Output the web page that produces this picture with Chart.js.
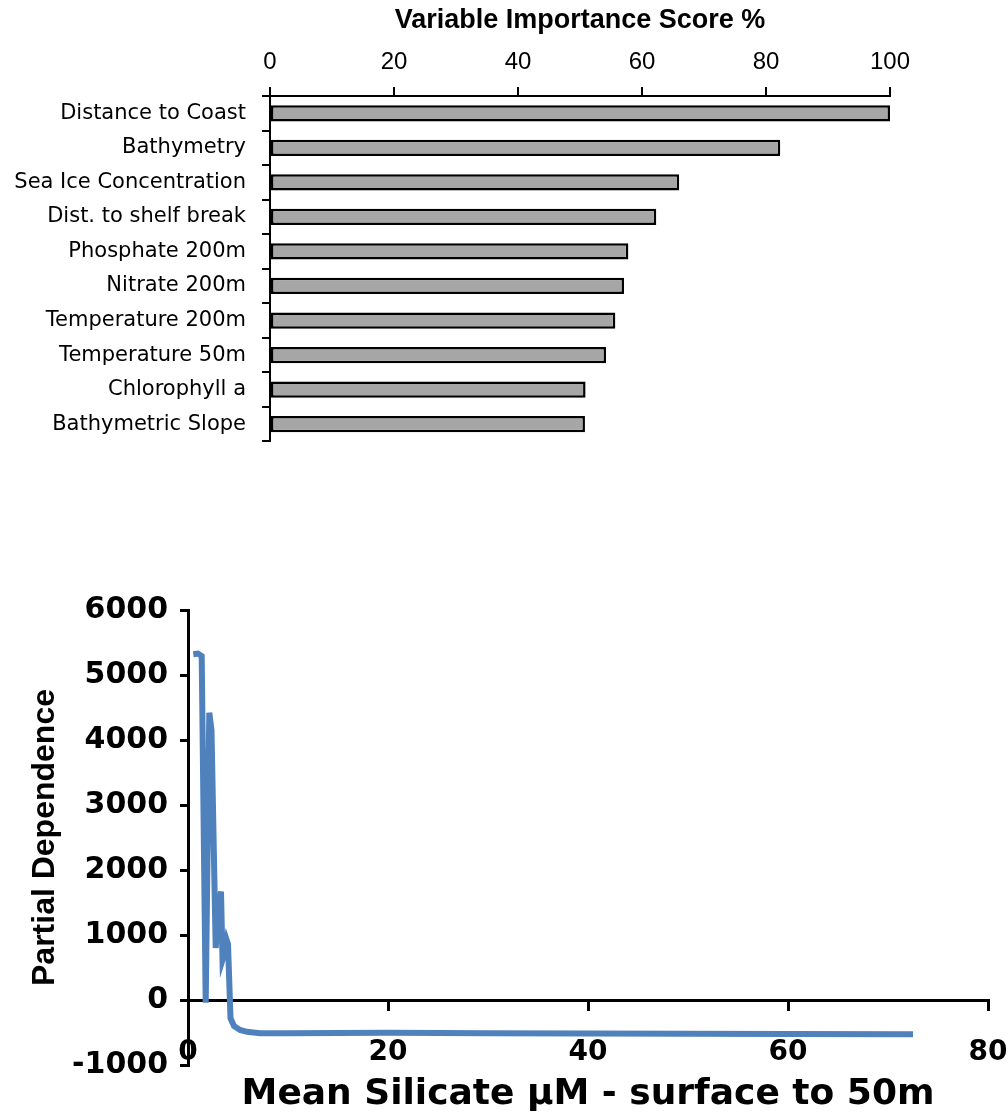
<!DOCTYPE html>
<html>
<head>
<meta charset="utf-8">
<script src="https://cdn.jsdelivr.net/npm/chart.js@4.4.1/dist/chart.umd.min.js"></script>
<style>
  html, body { margin: 0; padding: 0; background: #fff; }
  #wrap { position: relative; width: 1008px; height: 1116px; }
  #topBox { position: absolute; left: 0; top: 0; width: 1008px; height: 470px; }
  #bottomBox { position: absolute; left: 0; top: 570px; width: 1008px; height: 546px; }
</style>
</head>
<body>
<div id="wrap">
  <div id="topBox"><canvas id="importance"></canvas></div>
  <div id="bottomBox"><canvas id="dependence"></canvas></div>
</div>
<script>
// Predictor importance (percent of the top predictor)
const predictors = [
  'Distance to Coast', 'Bathymetry', 'Sea Ice Concentration', 'Dist. to shelf break',
  'Phosphate 200m', 'Nitrate 200m', 'Temperature 200m', 'Temperature 50m',
  'Chlorophyll a', 'Bathymetric Slope'
];
const importanceScores = [100, 82.3, 66.0, 62.3, 57.8, 57.1, 55.7, 54.2, 50.9, 50.8];

// Partial dependence on mean silicate (surface to 50 m)
const silicate = [0.53, 1.0, 1.37, 1.77, 2.13, 2.35, 2.77, 3.0, 3.3, 3.45, 3.65, 3.87, 4.0, 4.25, 4.6, 5.2, 5.9, 7.2, 10, 15, 20, 30, 40, 50, 60, 72.5];
const partialDependence = [5320, 5330, 5290, -40, 4420, 4150, 800, 1250, 1670, 620, 720, 920, 860, -280, -400, -460, -490, -510, -510, -508, -505, -510, -515, -518, -522, -525];

const importanceTicks = { min: 0, max: 100, step: 20 };
const silicateTicks = { min: 0, max: 80, step: 20 };
const dependenceTicks = { min: -1000, max: 6000, step: 1000 };

const BLACK = '#000';
const WIDE = 'DejaVu Sans';
const PLAIN = 'Liberation Sans';

new Chart(document.getElementById('importance'), {
  type: 'bar',
  data: {
    labels: predictors,
    datasets: [{
      data: importanceScores,
      backgroundColor: '#a6a6a6',
      borderColor: BLACK,
      borderWidth: 2.5,
      borderSkipped: false,
      barPercentage: 0.47,
      categoryPercentage: 1
    }]
  },
  options: {
    indexAxis: 'y',
    responsive: true,
    maintainAspectRatio: false,
    animation: false,
    layout: { padding: { left: 0, right: 118, top: 0, bottom: 26 } },
    plugins: { legend: { display: false }, tooltip: { enabled: false } },
    scales: {
      x: {
        type: 'linear',
        position: 'top',
        min: importanceTicks.min,
        max: importanceTicks.max,
        ticks: {
          stepSize: importanceTicks.step,
          color: BLACK,
          padding: 10,
          font: { family: PLAIN, size: 24 }
        },
        grid: { drawOnChartArea: false, tickLength: 9, color: BLACK, lineWidth: 2 },
        border: { color: BLACK, width: 2 },
        title: {
          display: true,
          text: 'Variable Importance Score %',
          color: BLACK,
          padding: { top: 4, bottom: 0 },
          font: { family: PLAIN, size: 27, weight: 'bold' }
        },
        afterFit: s => { s.height = 96; }
      },
      y: {
        type: 'category',
        ticks: {
          color: BLACK,
          padding: 16,
          font: { family: WIDE, size: 21 }
        },
        grid: { offset: true, drawOnChartArea: false, tickLength: 8, color: BLACK, lineWidth: 2 },
        border: { color: BLACK, width: 2 },
        afterFit: s => { s.width = 270; }
      }
    }
  }
});

new Chart(document.getElementById('dependence'), {
  type: 'line',
  data: {
    datasets: [{
      data: silicate.map((x, i) => ({ x, y: partialDependence[i] })),
      borderColor: '#4F81BD',
      borderWidth: 6,
      pointRadius: 0,
      tension: 0,
      fill: false,
      xAxisID: 'x',
      yAxisID: 'y'
    }]
  },
  options: {
    responsive: true,
    maintainAspectRatio: false,
    animation: false,
    layout: { padding: { left: 0, right: 20, top: 40, bottom: 0 } },
    plugins: { legend: { display: false }, tooltip: { enabled: false } },
    scales: {
      // axis line through zero, tick marks hanging below, labels further down
      x: {
        type: 'linear',
        position: { y: 0 },
        min: silicateTicks.min,
        max: silicateTicks.max,
        ticks: {
          stepSize: silicateTicks.step,
          color: BLACK,
          padding: 27,
          font: { family: WIDE, size: 28, weight: 'bold' }
        },
        grid: { drawOnChartArea: false, tickLength: 9, color: BLACK, lineWidth: 3 },
        border: { color: BLACK, width: 3 },
        afterFit: s => { s.paddingLeft = 0; s.paddingRight = 0; }
      },
      // holds the axis title at the foot of the chart
      xFoot: {
        type: 'linear',
        position: 'bottom',
        min: silicateTicks.min,
        max: silicateTicks.max,
        ticks: { display: false },
        grid: { display: false, drawTicks: false },
        border: { display: false },
        title: {
          display: true,
          text: 'Mean Silicate µM - surface to 50m',
          color: BLACK,
          padding: { top: 0, bottom: 0 },
          font: { family: WIDE, size: 36, weight: 'bold' }
        },
        afterFit: s => { s.height = 51; s.paddingLeft = 0; s.paddingRight = 0; }
      },
      y: {
        type: 'linear',
        min: dependenceTicks.min,
        max: dependenceTicks.max,
        ticks: {
          stepSize: dependenceTicks.step,
          color: BLACK,
          padding: 12,
          callback: v => String(v),
          font: { family: WIDE, size: 30, weight: 'bold' }
        },
        grid: { drawOnChartArea: false, tickLength: 8, color: BLACK, lineWidth: 3 },
        border: { color: BLACK, width: 3 },
        title: {
          display: true,
          text: 'Partial Dependence',
          color: BLACK,
          padding: { top: 26, bottom: 0 },
          font: { family: PLAIN, size: 32, weight: 'bold' }
        },
        afterFit: s => { s.width = 188; }
      }
    }
  }
});
</script>
</body>
</html>
